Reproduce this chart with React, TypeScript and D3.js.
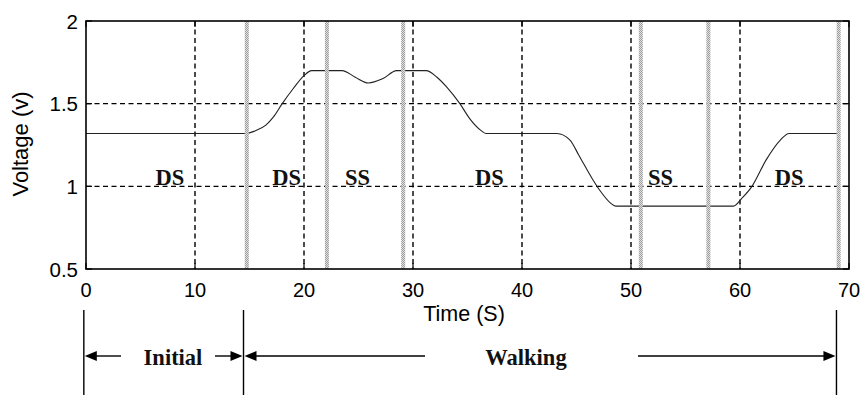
import React from "react";
import * as d3 from "d3";

// Voltage trace over one gait sequence
const timeS = [0, 14.7, 15.5, 16.5, 17.2, 18, 19, 20, 20.7, 23.5, 24.7, 25.9, 27.2, 28.5, 31.2, 32.2, 33.1, 34.3, 35.2, 36.2, 36.7, 43.2, 44.4, 45.2, 46.5, 47.2, 48.1, 48.6, 59.4, 60.2, 61.1, 62.4, 63.7, 64.5, 68.9];
const voltage = [1.32, 1.32, 1.335, 1.37, 1.42, 1.5, 1.59, 1.67, 1.7, 1.7, 1.66, 1.625, 1.65, 1.7, 1.7, 1.66, 1.6, 1.5, 1.41, 1.34, 1.32, 1.32, 1.28, 1.19, 1.04, 0.97, 0.9, 0.88, 0.88, 0.93, 1.0, 1.16, 1.28, 1.32, 1.32];

// Gait event markers (heel strike / toe off)
const eventTimes = [14.75, 22.1, 29.1, 50.9, 57.1, 69.05];

// Support phase labels
const phaseLabels = ["DS", "DS", "SS", "DS", "SS", "DS"];
const phaseLabelTimes = [7.7, 18.4, 24.9, 37.0, 52.7, 64.5];

// Axis ticks
const xTicks = [0, 10, 20, 30, 40, 50, 60, 70];
const yTicks = [0.5, 1, 1.5, 2];
const xGrid = [10, 20, 30, 40, 50, 60];
const yGrid = [1, 1.5];

// Stage annotation below the axis
const stageBounds = [-0.2, 14.45, 68.85];
const stageNames = ["Initial", "Walking"];

const W = 866;
const H = 395;
const L = 86, R = 849, T = 21, B = 269;

export default function App() {
  const x = d3.scaleLinear().domain([0, 70]).range([L, R]);
  const y = d3.scaleLinear().domain([0.5, 2]).range([B, T]);
  const pts: [number, number][] = timeS.map((t, i) => [t, voltage[i]]);
  const line = d3
    .line<[number, number]>()
    .x((d) => x(d[0]))
    .y((d) => y(d[1]))
    .curve(d3.curveMonotoneX);

  const sans = "'Liberation Sans', Arial, sans-serif";
  const serif = "'Liberation Serif', 'Times New Roman', serif";
  const dash = "5,3.5";
  const arrowY = 356;
  const xb = stageBounds.map((t) => x(t));

  const head = (tipX: number, dir: number) => {
    const len = 12, half = 5;
    return `M${tipX},${arrowY} L${tipX + dir * len},${arrowY - half} L${tipX + dir * len},${arrowY + half} Z`;
  };

  return (
    <svg
      width={W}
      height={H}
      style={{ position: "absolute", left: 0, top: 0, background: "#fff" }}
    >
      <defs>
        <pattern id="stip" width="2" height="2" patternUnits="userSpaceOnUse">
          <rect width="2" height="2" fill="#e2e2e2" />
          <rect width="1" height="1" fill="#9c9c9c" />
          <rect x="1" y="1" width="1" height="1" fill="#9c9c9c" />
        </pattern>
      </defs>
      <rect width={W} height={H} fill="#fff" />

      {/* grid */}
      {xGrid.map((g) => (
        <line key={"gx" + g} x1={x(g)} x2={x(g)} y1={T} y2={B} stroke="#000" strokeWidth={1.4} strokeDasharray={dash} />
      ))}
      {yGrid.map((g) => (
        <line key={"gy" + g} x1={L} x2={R} y1={y(g)} y2={y(g)} stroke="#000" strokeWidth={1.4} strokeDasharray={dash} />
      ))}

      {/* voltage trace */}
      <path d={line(pts) || ""} fill="none" stroke="#222" strokeWidth={1.1} />

      {/* gait event bars */}
      {eventTimes.map((t) => (
        <rect key={"ev" + t} x={x(t) - 2} y={T} width={4} height={B - T} fill="url(#stip)" />
      ))}

      {/* phase labels */}
      {phaseLabels.map((s, i) => (
        <text
          key={"pl" + i}
          x={x(phaseLabelTimes[i])}
          y={y(1) - 1.5}
          textAnchor="middle"
          fontFamily={serif}
          fontWeight="bold"
          fontSize={22.5}
          fill="#111"
        >
          {s}
        </text>
      ))}

      {/* frame */}
      <rect x={L} y={T} width={R - L} height={B - T} fill="none" stroke="#000" strokeWidth={1.6} />
      {xTicks.map((t) => (
        <g key={"xt" + t}>
          <line x1={x(t)} x2={x(t)} y1={B} y2={B - 6} stroke="#000" strokeWidth={1.2} />
          <line x1={x(t)} x2={x(t)} y1={T} y2={T + 6} stroke="#000" strokeWidth={1.2} />
          <text x={x(t)} y={297} textAnchor="middle" fontFamily={sans} fontSize={20} fill="#000">
            {t}
          </text>
        </g>
      ))}
      {yTicks.map((t) => (
        <g key={"yt" + t}>
          <line x1={L} x2={L + 6} y1={y(t)} y2={y(t)} stroke="#000" strokeWidth={1.2} />
          <line x1={R} x2={R - 6} y1={y(t)} y2={y(t)} stroke="#000" strokeWidth={1.2} />
          <text x={78} y={y(t) + 7.5} textAnchor="end" fontFamily={sans} fontSize={20.5} fill="#000">
            {t}
          </text>
        </g>
      ))}

      {/* axis titles */}
      <text x={464} y={321} textAnchor="middle" fontFamily={sans} fontSize={21.5} fill="#000">
        Time (S)
      </text>
      <text
        transform={`translate(28,144) rotate(-90)`}
        textAnchor="middle"
        fontFamily={sans}
        fontSize={22}
        fill="#000"
      >
        Voltage (v)
      </text>

      {/* stage annotation */}
      {xb.map((bx, i) => (
        <line key={"sb" + i} x1={bx} x2={bx} y1={310} y2={H} stroke="#000" strokeWidth={1.4} />
      ))}
      {/* Initial */}
      <line x1={xb[0] + 10} x2={121} y1={arrowY} y2={arrowY} stroke="#000" strokeWidth={1.4} />
      <path d={head(xb[0] + 1, 1)} fill="#000" />
      <line x1={215} x2={xb[1] - 10} y1={arrowY} y2={arrowY} stroke="#000" strokeWidth={1.4} />
      <path d={head(xb[1] - 1, -1)} fill="#000" />
      <text x={173} y={365} textAnchor="middle" fontFamily={serif} fontWeight="bold" fontSize={22.5} fill="#111">
        {stageNames[0]}
      </text>
      {/* Walking */}
      <line x1={xb[1] + 10} x2={425} y1={arrowY} y2={arrowY} stroke="#000" strokeWidth={1.4} />
      <path d={head(xb[1] + 1, 1)} fill="#000" />
      <line x1={638} x2={xb[2] - 10} y1={arrowY} y2={arrowY} stroke="#000" strokeWidth={1.4} />
      <path d={head(xb[2] - 1, -1)} fill="#000" />
      <text x={526} y={365} textAnchor="middle" fontFamily={serif} fontWeight="bold" fontSize={22.5} fill="#111">
        {stageNames[1]}
      </text>
    </svg>
  );
}
